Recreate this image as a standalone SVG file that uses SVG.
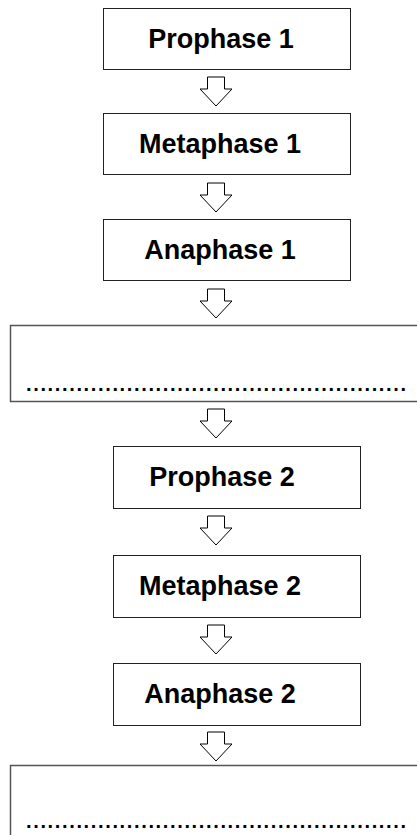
<svg xmlns="http://www.w3.org/2000/svg" width="417" height="835" viewBox="0 0 417 835">
<style>
.box{fill:#fff;stroke:#222;stroke-width:1}
.blank{fill:#fff;stroke:#555;stroke-width:1.5}
.lbl{font-family:"Liberation Sans",Arial,sans-serif;font-weight:bold;font-size:27px;fill:#000;text-anchor:middle}
.dots{font-family:"Liberation Sans",Arial,sans-serif;font-weight:bold;font-size:20px;fill:#000}
.arr{fill:#fff;stroke:#000;stroke-width:1;stroke-linejoin:miter}
</style>
<defs>
<path id="a" class="arr" d="M-8.5,0 H8.5 V12 H16 L0,29 L-16,12 H-8.5 Z"/>
</defs>
<rect width="417" height="835" fill="#fff"/>
<g id="connectors">
<use href="#a" x="216" y="77"/>
<use href="#a" x="216" y="183"/>
<use href="#a" x="216" y="289"/>
<use href="#a" x="216" y="409"/>
<use href="#a" x="216" y="516"/>
<use href="#a" x="216" y="625"/>
<use href="#a" x="216" y="732"/>
</g>
<g id="prophase1"><rect class="box" x="103.5" y="8.5" width="247" height="61"/><text class="lbl" x="221" y="48">Prophase 1</text></g>
<g id="metaphase1"><rect class="box" x="103.5" y="113.5" width="247" height="61"/><text class="lbl" x="220" y="153">Metaphase 1</text></g>
<g id="anaphase1"><rect class="box" x="103.5" y="219.5" width="247" height="61"/><text class="lbl" x="220" y="259">Anaphase 1</text></g>
<g id="blank1"><rect class="blank" x="10.5" y="325.5" width="420" height="76"/><text class="dots" x="26" y="391" textLength="380" lengthAdjust="spacing">.....................................................</text></g>
<g id="prophase2"><rect class="box" x="113.5" y="446.5" width="247" height="62"/><text class="lbl" x="222" y="486">Prophase 2</text></g>
<g id="metaphase2"><rect class="box" x="113.5" y="555.5" width="247" height="62"/><text class="lbl" x="220" y="595">Metaphase 2</text></g>
<g id="anaphase2"><rect class="box" x="113.5" y="663.5" width="247" height="62"/><text class="lbl" x="220" y="703">Anaphase 2</text></g>
<g id="blank2"><rect class="blank" x="10.5" y="765.5" width="420" height="80"/><text class="dots" x="26" y="828" textLength="380" lengthAdjust="spacing">.....................................................</text></g>
</svg>
